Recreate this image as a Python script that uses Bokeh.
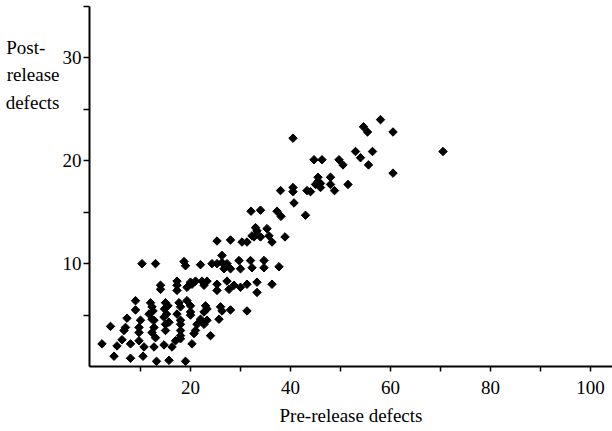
import math
from bokeh.plotting import figure
from bokeh.models import FixedTicker, Range1d
from bokeh.embed import file_html
from bokeh.resources import INLINE

pre_release = [
    4.7, 8, 10.5, 13.2, 15.7, 19,
    2.3, 5.3, 6.3, 8, 9.7, 10.7, 12.7, 14.7, 16.3, 17, 18, 20.3,
    4, 6.7, 7, 9.7, 9.7, 10, 12.7, 12.7, 12.3, 13, 15, 15, 15.7, 18, 18, 18, 20.7, 21, 21.3, 24,
    7.3, 11.7, 12.3, 14.7, 15.2, 17.3, 18, 22, 25.7, 20, 23.3, 22.7,
    9, 9, 12, 12.3, 12.5, 15, 15.5, 14.8, 17.7, 18, 19.3, 20, 20, 22.7, 23, 23.3, 26, 26.3, 28, 31.3,
    14, 14, 17.3, 17.3, 17.3, 19.3, 20.3, 21, 22.3, 22.7, 23.3, 25.3, 25.3, 27.3, 27.7, 28.7, 30, 31.3, 33.3, 33.3, 36.3, 20,
    10.3, 13, 18.7, 19, 22, 24.3, 25.3, 26.3, 26.3, 26.7, 27.3, 28, 29.7, 30, 32, 32.3, 34.7, 34.7, 37.7,
    25.3, 28, 30.3, 31.3, 32.3, 32.7, 33.3, 33, 34, 35.3, 35.7, 36.3, 38.9,
    32.1, 34, 37.3, 38.1, 43, 40.7,
    38, 40.5, 40.5, 43.3, 44, 45, 45.5, 46, 46, 45.5, 48, 48, 48.8, 51.5,
    44.7, 46.3, 49.7, 50.5, 53, 54, 56.4, 55.6, 60.5, 70.5,
    40.5, 54.6, 55.4, 58, 60.5,
]
post_release = [
    1.0, 0.8, 1.0, 0.5, 0.6, 0.5,
    2.2, 2.0, 2.6, 2.2, 2.5, 1.9, 1.9, 2.1, 1.9, 2.5, 2.7, 2.2,
    3.9, 3.5, 3.8, 3.8, 3.3, 4.5, 4.5, 3.8, 3.3, 2.8, 4.1, 3.5, 4.3, 4.1, 3.5, 3.0, 3.2, 3.5, 4.1, 3.0,
    4.7, 5.1, 4.6, 4.8, 5.1, 5.1, 4.5, 4.6, 4.6, 5.0, 4.5, 4.1,
    6.4, 5.5, 6.2, 5.8, 5.4, 6.2, 5.9, 5.6, 6.2, 5.8, 6.4, 5.9, 5.3, 5.3, 5.9, 5.6, 5.8, 5.4, 5.5, 5.4,
    7.9, 7.5, 8.3, 7.9, 7.4, 7.7, 8.0, 8.3, 8.3, 7.9, 8.3, 8.0, 7.4, 8.3, 7.5, 7.9, 7.7, 8.0, 8.2, 7.2, 8.0, 8.2,
    10, 10, 10.2, 9.8, 9.9, 10, 10, 10.8, 10.1, 9.5, 10, 9.5, 10.3, 9.5, 10.3, 9.6, 10.3, 9.6, 9.7,
    12.2, 12.3, 12.1, 12.1, 12.7, 12.6, 13.2, 13.5, 12.6, 13.4, 12.7, 12.1, 12.6,
    15.1, 15.2, 15.1, 14.6, 14.7, 15.9,
    17.1, 17.4, 17.0, 17.1, 17.0, 17.7, 18.0, 17.8, 17.4, 18.4, 18.4, 17.7, 17.1, 17.7,
    20.1, 20.1, 20.1, 19.6, 20.9, 20.3, 20.9, 19.6, 18.8, 20.9,
    22.2, 23.3, 22.8, 24.0, 22.8,
]

x_ticks = [10, 20, 30, 40, 50, 60, 70, 80, 90, 100]
x_tick_labels = {10: "", 20: "20", 30: "", 40: "40", 50: "", 60: "60", 70: "", 80: "80", 90: "", 100: "100"}
y_ticks = [5, 10, 15, 20, 25, 30, 35]
y_tick_labels = {5: "", 10: "10", 15: "", 20: "20", 25: "", 30: "30", 35: ""}
# the axis label block is right-justified; non-breaking spaces pad the short
# first line so that the three lines start at the same left edge
y_title_lines = ["Post-\u00a0\u00a0\u00a0", "release", "defects"]

FONT = "Liberation Serif"

p = figure(width=612, height=431, output_backend="svg", toolbar_location=None,
           x_range=Range1d(-0.2, 104.4), y_range=Range1d(0, 35),
           min_border_left=89, min_border_right=0, min_border_top=6, min_border_bottom=65)
p.outline_line_color = None
p.grid.visible = False
p.background_fill_color = "white"
p.border_fill_color = "white"

p.scatter(pre_release, post_release, marker="square", angle=math.pi / 4, size=6,
          fill_color="black", line_color="black", line_width=1)

xa = p.xaxis[0]
xa.ticker = FixedTicker(ticks=x_ticks)
xa.major_label_overrides = x_tick_labels
xa.axis_line_width = 2
xa.major_tick_line_width = 1.5
xa.major_tick_out = 5
xa.major_tick_in = 0
xa.minor_tick_out = 0
xa.major_label_text_font = FONT
xa.major_label_text_font_size = "19px"
xa.major_label_text_color = "black"
xa.major_label_standoff = 9
xa.axis_label = "Pre-release defects"
xa.axis_label_text_font = FONT
xa.axis_label_text_font_size = "19px"
xa.axis_label_text_font_style = "normal"
xa.axis_label_text_color = "black"
xa.axis_label_standoff = 8

ya = p.yaxis[0]
ya.ticker = FixedTicker(ticks=y_ticks)
ya.major_label_overrides = y_tick_labels
ya.axis_line_width = 2
ya.major_tick_line_width = 1.5
ya.major_tick_out = 6
ya.major_tick_in = 0
ya.minor_tick_out = 0
ya.major_label_text_font = FONT
ya.major_label_text_font_size = "19px"
ya.major_label_text_color = "black"
ya.major_label_standoff = 2

# horizontal y-axis title anchored at the top of the axis; leading empty
# lines push the three visible lines down below the top edge
props = ya.properties()
ya.axis_label = "\n" * 5 + "\n".join(y_title_lines)
ya.axis_label_text_font = FONT
ya.axis_label_text_font_size = "19px"
ya.axis_label_text_font_style = "normal"
ya.axis_label_text_color = "black"
ya.axis_label_text_line_height = 1.3
ya.axis_label_standoff = 0
if "axis_label_orientation" in props:
    ya.axis_label_orientation = "horizontal"
if "axis_label_align" in props:
    ya.axis_label_align = "end"

open("out.html", "w").write(file_html(p, INLINE))
